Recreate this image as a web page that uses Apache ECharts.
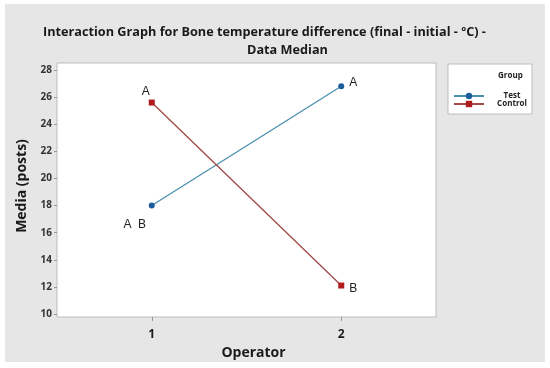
<!DOCTYPE html>
<html>
<head>
<meta charset="utf-8">
<script src="https://cdn.jsdelivr.net/npm/echarts@6/dist/echarts.min.js"></script>
<style>
  html, body { margin: 0; padding: 0; background: #ffffff; }
  #chart { width: 550px; height: 368px; }
</style>
</head>
<body>
<div id="chart"></div>
<script>
// Data
const operators = ['1', '2'];
const testValues = [18.0, 26.8];
const controlValues = [25.6, 12.1];
const testLetters = ['A  B', 'A'];
const controlLetters = ['A', 'B'];
const yTicks = { min: 10, max: 28, interval: 2 };

const chart = echarts.init(document.getElementById('chart'));

// Letter labels placed relative to each point
const testLabelPos = [
  { position: 'bottom', offset: [-17, 5] },
  { position: 'right', offset: [0, -4] }
];
const controlLabelPos = [
  { position: 'top', offset: [-6, 3] },
  { position: 'right', offset: [0, 3] }
];

function withLetters(values, letters, pos) {
  return values.map(function (v, i) {
    return {
      value: v,
      label: {
        show: true,
        formatter: letters[i],
        position: pos[i].position,
        offset: pos[i].offset,
        fontFamily: 'Liberation Sans',
        fontSize: 12,
        color: '#222'
      }
    };
  });
}

const font = "'Open Sans', sans-serif";
const titleStyle = { fontFamily: font, fontSize: 12.7, fontWeight: 'bold', color: '#1a1a1a' };

const options = {
  animation: false,
  backgroundColor: '#ffffff',
  // two title lines, placed separately like the reference
  title: [
    { text: 'Interaction Graph for Bone temperature difference (final - initial - ºC) -', left: 43, top: 26, padding: 0, textStyle: titleStyle },
    { text: 'Data Median', left: 247, top: 44, padding: 0, textStyle: titleStyle }
  ],
  graphic: [
    // gray page panel
    { type: 'rect', z: -20, shape: { x: 5, y: 4, width: 540, height: 358 }, style: { fill: '#e6e6e6' } },
    // plot frame
    { type: 'rect', z: -10, shape: { x: 57, y: 63, width: 379, height: 254 }, style: { fill: '#ffffff', stroke: '#bdbdbd', lineWidth: 1 } },
    // legend box
    { type: 'rect', z: -10, shape: { x: 448, y: 64, width: 84, height: 50 }, style: { fill: '#ffffff', stroke: '#bdbdbd', lineWidth: 1 } },
    { type: 'text', left: 498, top: 72, style: { text: 'Group', font: 'bold 8px ' + font, fill: '#222' } }
  ],
  legend: {
    orient: 'vertical',
    left: 448,
    top: 87,
    itemGap: 0,
    itemWidth: 30,
    itemHeight: 8,
    align: 'left',
    formatter: '{a|{name}}',
    textStyle: {
      fontFamily: font,
      fontSize: 8,
      fontWeight: 'bold',
      color: '#222',
      rich: { a: { width: 46, align: 'center', fontFamily: font, fontSize: 8, fontWeight: 'bold', color: '#222' } }
    },
    data: ['Test', 'Control']
  },
  grid: { left: 57, right: 114, top: 70, bottom: 54 },
  xAxis: {
    type: 'category',
    data: operators,
    boundaryGap: true,
    offset: 3,
    name: 'Operator',
    nameLocation: 'middle',
    nameGap: 26,
    nameTextStyle: { fontFamily: font, fontSize: 14, fontWeight: 'bold', color: '#1a1a1a', padding: [0, 0, 0, 14] },
    axisLine: { show: false },
    axisTick: { show: true, alignWithLabel: true, length: 4, lineStyle: { color: '#999' } },
    axisLabel: { fontFamily: font, fontSize: 12, fontWeight: 'bold', color: '#1a1a1a', margin: 12 },
    splitLine: { show: false }
  },
  yAxis: {
    type: 'value',
    min: yTicks.min,
    max: yTicks.max,
    interval: yTicks.interval,
    name: 'Media (posts)',
    nameLocation: 'middle',
    nameGap: 28,
    nameTextStyle: { fontFamily: font, fontSize: 14, fontWeight: 'bold', color: '#1a1a1a', padding: [0, 0, 0, 12] },
    axisLine: { show: false },
    axisTick: { show: true, length: 3, lineStyle: { color: '#999' } },
    axisLabel: { fontFamily: font, fontSize: 10, fontWeight: 'bold', color: '#333', margin: 5 },
    splitLine: { show: false }
  },
  series: [
    {
      name: 'Test',
      type: 'line',
      data: withLetters(testValues, testLetters, testLabelPos),
      symbol: 'circle',
      symbolSize: 6,
      itemStyle: { color: '#1c5e9c' },
      lineStyle: { color: '#4b8fb0', width: 1.3 }
    },
    {
      name: 'Control',
      type: 'line',
      data: withLetters(controlValues, controlLetters, controlLabelPos),
      symbol: 'rect',
      symbolSize: 6,
      itemStyle: { color: '#b01a1a' },
      lineStyle: { color: '#a04848', width: 1.3 }
    }
  ]
};

chart.setOption(options);
</script>
</body>
</html>
